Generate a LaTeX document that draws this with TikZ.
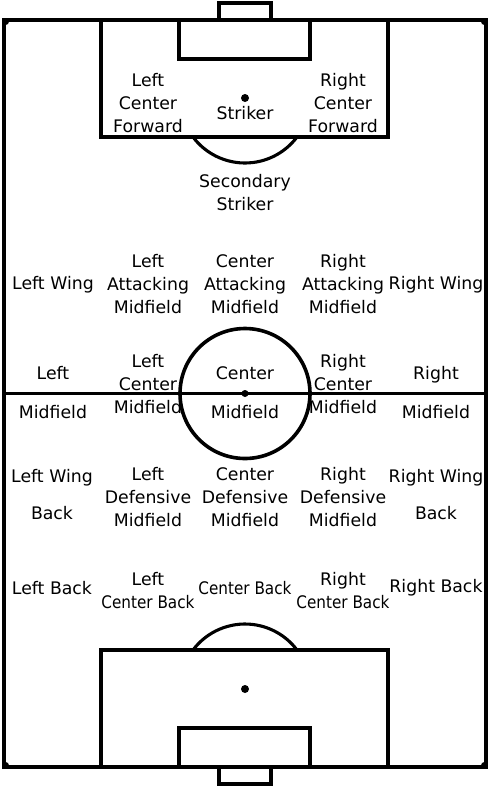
\documentclass[tikz,border=0pt]{standalone}
\usepackage{fontspec}
\setmainfont{DejaVu Sans}
\usepackage{graphicx}
\usetikzlibrary{positioning}

\newcommand{\cback}{\scalebox{0.88}[1]{Center Back}}

\begin{document}
\begin{tikzpicture}[
      x=1pt, y=-1pt,
      font=\fontsize{17.3}{23}\selectfont,
      pitch/.style={draw, line width=3.6pt},
      arcline/.style={draw, line width=3.1pt},
      role/.style={align=center, inner sep=0pt},
      spot/.style={fill, circle, inner sep=0pt, minimum size=8pt},
    ]
    \useasboundingbox (0,0) rectangle (490,788);
    % touch lines, halfway line and centre circle
    \draw[pitch] (4,20) rectangle (486,767);
    \draw[pitch] (4,393.5) -- (486,393.5);
    \draw[pitch] (245,393.5) circle[radius=65];
    \node[spot, minimum size=7pt] (kickoff) at (245,393.5) {};
    % corner arcs
    \draw[arcline] (8,20) arc[start angle=0, end angle=90, radius=4];
    \draw[arcline] (482,20) arc[start angle=180, end angle=90, radius=4];
    \draw[arcline] (4,763) arc[start angle=-90, end angle=0, radius=4];
    \draw[arcline] (482,767) arc[start angle=180, end angle=270, radius=4];
    % top end
    \draw[pitch] (219,3) rectangle (271,20);
    \draw[pitch] (101,20) rectangle (388,137);
    \draw[pitch] (179,20) rectangle (310,59);
    \node[spot] (topspot) at (245,98) {};
    \draw[arcline] (193,137) arc[start angle=143.13, end angle=36.87, radius=65];
    % bottom end
    \draw[pitch] (219,767) rectangle (271,784);
    \draw[pitch] (101,650) rectangle (388,767);
    \draw[pitch] (179,728) rectangle (310,767);
    \node[spot] (botspot) at (245,689) {};
    \draw[arcline] (193,650) arc[start angle=-143.13, end angle=-36.87, radius=65];
    % forwards
    \node[role] (lcf) at (148,103.5) {Left\\Center\\Forward};
    \node[role] (st)  at (245,113)   {Striker};
    \node[role] (rcf) at (343,103.5) {Right\\Center\\Forward};
    \node[role] (ss)  at (245,192.5) {Secondary\\Striker};
    % attacking line
    \node[role] (lw)  at (53,285)  {Left Wing};
    \node[role] (lam) at (148,284) {Left\\Attacking\\Midfield};
    \node[role] (cam) at (245,284) {Center\\Attacking\\Midfield};
    \node[role] (ram) at (343,284) {Right\\Attacking\\Midfield};
    \node[role] (rw)  at (436,285) {Right Wing};
    % midfield line
    \node[role] (lm)  at (53,392.5)  {Left\\[16pt]Midfield};
    \node[role] (lcm) at (148,384.5) {Left\\Center\\Midfield};
    \node[role] (cm)  at (245,392.5) {Center\\[16pt]Midfield};
    \node[role] (rcm) at (343,384.5) {Right\\Center\\Midfield};
    \node[role] (rm)  at (436,392.5) {Right\\[16pt]Midfield};
    % defensive line
    \node[role] (lwb) at (52,494.5)  {Left Wing\\[14pt]Back};
    \node[role] (ldm) at (148,497.5) {Left\\Defensive\\Midfield};
    \node[role] (cdm) at (245,497.5) {Center\\Defensive\\Midfield};
    \node[role] (rdm) at (343,497.5) {Right\\Defensive\\Midfield};
    \node[role] (rwb) at (436,494.5) {Right Wing\\[14pt]Back};
    % back line
    \node[role] (lb)  at (52,588)    {Left Back};
    \node[role] (lcb) at (148,590.5) {Left\\\cback};
    \node[role] (cb)  at (245,588)   {\cback};
    \node[role] (rcb) at (343,590.5) {Right\\\cback};
    \node[role] (rb)  at (436,588)   {Right Back};
\end{tikzpicture}
\end{document}
